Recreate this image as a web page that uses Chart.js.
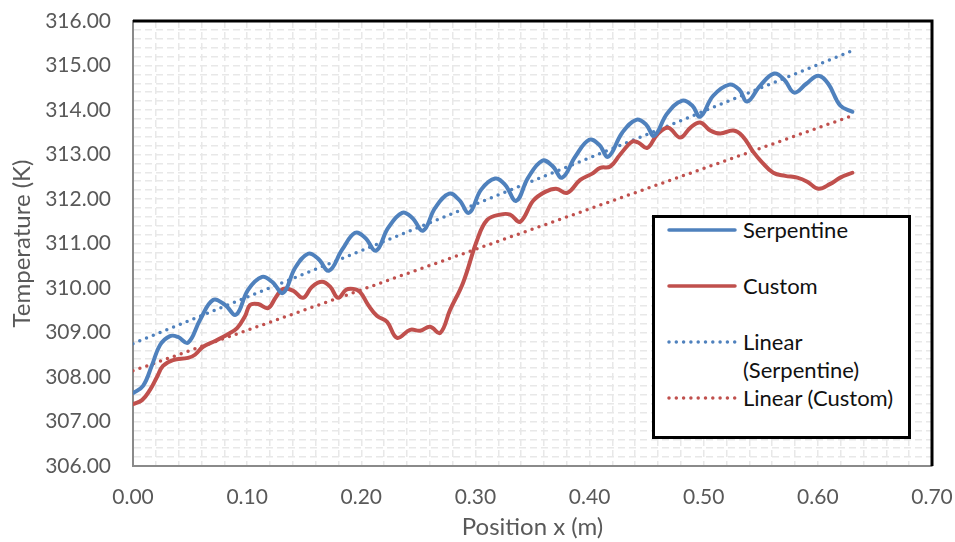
<!DOCTYPE html>
<html>
<head>
<meta charset="utf-8">
<script src="https://cdn.jsdelivr.net/npm/chart.js@4.4.1/dist/chart.umd.min.js"></script>
<style>
  body { margin: 0; background: #fff; }
  #wrap { position: relative; width: 955px; height: 542px; }
  #legend {
    position: absolute; left: 652px; top: 215px;
    width: 253px; height: 218px;
    border: 3px solid #000; background: #fff;
    font-family: Lato, "Open Sans", sans-serif; font-size: 22px; color: #111;
  }
  #legend .item { display: flex; align-items: flex-start; height: 56px; line-height: 28px; margin-left: 12px; }
  #legend .item:first-child { margin-top: -2px; }
  #legend .item.last { height: auto; }
  #legend svg { flex: none; width: 70px; height: 28px; margin-right: 6px; }
  #legend span { width: 165px; }
</style>
</head>
<body>
<div id="wrap">
  <canvas id="chart" width="955" height="542"></canvas>
  <div id="legend"></div>
</div>
<script>
// temperature along the channel, position in metres
const serpX = [0.000, 0.0088, 0.0167, 0.0237, 0.0324, 0.0394, 0.0482, 0.0587, 0.0701, 0.0806,
  0.0903, 0.1008, 0.1131, 0.1218, 0.1315, 0.1420, 0.1534, 0.1621, 0.1718, 0.1832,
  0.1946, 0.2033, 0.2130, 0.2235, 0.2358, 0.2445, 0.2542, 0.2647, 0.2770, 0.2857,
  0.2945, 0.3050, 0.3173, 0.3260, 0.3357, 0.3462, 0.3585, 0.3672, 0.3760, 0.3874,
  0.3997, 0.4084, 0.4163, 0.4286, 0.4409, 0.4496, 0.4566, 0.4680, 0.4812, 0.4899,
  0.4969, 0.5083, 0.5224, 0.5311, 0.5381, 0.5495, 0.5618, 0.5706, 0.5793, 0.5899,
  0.6003, 0.6091, 0.6196, 0.6302];
const serpT = [307.64, 307.80, 308.27, 308.72, 308.92, 308.90, 308.77, 309.28, 309.73, 309.62,
  309.40, 309.96, 310.25, 310.14, 309.89, 310.45, 310.77, 310.66, 310.39, 310.86,
  311.24, 311.13, 310.84, 311.35, 311.69, 311.58, 311.29, 311.80, 312.12, 311.98,
  311.69, 312.21, 312.46, 312.32, 311.96, 312.48, 312.86, 312.75, 312.48, 312.95,
  313.33, 313.22, 312.95, 313.49, 313.78, 313.67, 313.42, 313.92, 314.21, 314.10,
  313.85, 314.32, 314.57, 314.46, 314.19, 314.55, 314.82, 314.68, 314.39, 314.59,
  314.77, 314.59, 314.10, 313.96];

const custX = [0.000, 0.0079, 0.0149, 0.0210, 0.0263, 0.0351, 0.0482, 0.0543, 0.0614, 0.0719,
  0.0824, 0.0912, 0.0982, 0.1025, 0.1096, 0.1183, 0.1253, 0.1315, 0.1402, 0.1490,
  0.1569, 0.1656, 0.1727, 0.1797, 0.1867, 0.1928, 0.1990, 0.2060, 0.2139, 0.2226,
  0.2314, 0.2428, 0.2515, 0.2603, 0.2691, 0.2778, 0.2892, 0.3015, 0.3103, 0.3217,
  0.3304, 0.3392, 0.3506, 0.3611, 0.3707, 0.3804, 0.3918, 0.4023, 0.4093, 0.4181,
  0.4268, 0.4373, 0.4426, 0.4505, 0.4593, 0.4689, 0.4794, 0.4882, 0.4969, 0.5057,
  0.5145, 0.5259, 0.5338, 0.5434, 0.5513, 0.5609, 0.5714, 0.5820, 0.5907, 0.6004,
  0.6109, 0.6196, 0.6302];
const custT = [307.39, 307.48, 307.71, 308.00, 308.25, 308.38, 308.43, 308.50, 308.68, 308.81,
  308.95, 309.10, 309.37, 309.62, 309.64, 309.55, 309.80, 309.98, 309.94, 309.78,
  310.03, 310.14, 310.03, 309.78, 309.96, 309.98, 309.91, 309.62, 309.37, 309.24,
  308.88, 309.06, 309.04, 309.13, 308.99, 309.51, 310.12, 311.08, 311.53, 311.65,
  311.65, 311.49, 311.96, 312.16, 312.23, 312.14, 312.43, 312.57, 312.70, 312.73,
  313.00, 313.29, 313.27, 313.15, 313.45, 313.60, 313.38, 313.60, 313.72, 313.54,
  313.47, 313.54, 313.42, 313.06, 312.82, 312.59, 312.52, 312.48, 312.39, 312.23,
  312.34, 312.48, 312.59];

// linear trend lines, end points
const trendX = [0, 0.63];
const serpTrendT = [308.75, 315.33];
const custTrendT = [308.14, 313.87];

const blue = '#4F81BD';
const red = '#C0504D';
const axisGrey = '#595959';
const fontName = 'Lato';

function pts(xs, ys) {
  return xs.map((x, i) => ({ x: x, y: ys[i] }));
}

// black frame on the top and right of the plot area
const plotFrame = {
  id: 'plotFrame',
  afterDatasetsDraw(chart) {
    const { ctx, chartArea: a } = chart;
    ctx.save();
    ctx.strokeStyle = '#000';
    ctx.lineWidth = 3;
    ctx.beginPath();
    ctx.moveTo(a.left, a.top);
    ctx.lineTo(a.right, a.top);
    ctx.lineTo(a.right, a.bottom);
    ctx.stroke();
    ctx.restore();
  }
};

const dotted = [0, 7.3];

const chart = new Chart(document.getElementById('chart'), {
  type: 'line',
  data: {
    datasets: [
      { label: 'Serpentine', data: pts(serpX, serpT), borderColor: blue, borderWidth: 4, tension: 0.4,
        borderCapStyle: 'round', borderJoinStyle: 'round' },
      { label: 'Custom', data: pts(custX, custT), borderColor: red, borderWidth: 4, tension: 0.4,
        borderCapStyle: 'round', borderJoinStyle: 'round' },
      { label: 'Linear (Serpentine)', data: pts(trendX, serpTrendT), borderColor: blue, borderWidth: 3.5,
        borderDash: dotted, borderCapStyle: 'round' },
      { label: 'Linear (Custom)', data: pts(trendX, custTrendT), borderColor: red, borderWidth: 3.5,
        borderDash: dotted, borderCapStyle: 'round' }
    ]
  },
  options: {
    responsive: false,
    animation: false,
    layout: { padding: { top: 21, right: 23, bottom: 0, left: 0 } },
    elements: { point: { radius: 0 } },
    plugins: { legend: { display: false }, tooltip: { enabled: false } },
    scales: {
      x: {
        type: 'linear', min: 0, max: 0.7,
        grid: { color: '#e8e8e8', lineWidth: 1.5, drawTicks: false },
        border: { color: '#8a8a8a', width: 2, dash: [7, 4] },
        ticks: {
          stepSize: 0.02, maxTicksLimit: 100, autoSkip: false, maxRotation: 0,
          padding: 19, color: axisGrey, font: { family: fontName, size: 21 },
          callback: v => (Math.round(v * 100) % 10 === 0 ? v.toFixed(2) : '')
        },
        title: {
          display: true, text: 'Position x (m)', color: axisGrey,
          font: { family: fontName, size: 24 }, padding: { top: 0, bottom: 0 }
        },
        afterFit: s => { s.height = 76; s.paddingLeft = 0; s.paddingRight = 0; }
      },
      y: {
        min: 306, max: 316,
        grid: { color: '#e8e8e8', lineWidth: 1.5, drawTicks: false },
        border: { color: '#8a8a8a', width: 2, dash: [7, 4] },
        ticks: {
          stepSize: 0.2, maxTicksLimit: 100, autoSkip: false,
          padding: 22, color: axisGrey, font: { family: fontName, size: 21 },
          callback: v => (Math.abs(v - Math.round(v)) < 1e-6 ? v.toFixed(2) : '')
        },
        title: {
          display: true, text: 'Temperature (K)', color: axisGrey,
          font: { family: fontName, size: 24 }, padding: { top: 8, bottom: 0 }
        },
        afterFit: s => { s.width = 133; s.paddingTop = 0; s.paddingBottom = 0; }
      }
    }
  },
  plugins: [plotFrame]
});

// legend box drawn inside the plot
const legendBox = document.getElementById('legend');
chart.data.datasets.forEach((ds, i) => {
  const row = document.createElement('div');
  row.className = 'item' + (i === chart.data.datasets.length - 1 ? ' last' : '');
  const dash = ds.borderDash ? ds.borderDash.join(' ') : 'none';
  row.innerHTML =
    '<svg viewBox="0 0 70 28"><line x1="2" y1="14" x2="68" y2="14" stroke="' + ds.borderColor +
    '" stroke-width="3.5" stroke-linecap="round" stroke-dasharray="' + dash + '"/></svg>' +
    '<span>' + ds.label + '</span>';
  legendBox.appendChild(row);
});
</script>
</body>
</html>
